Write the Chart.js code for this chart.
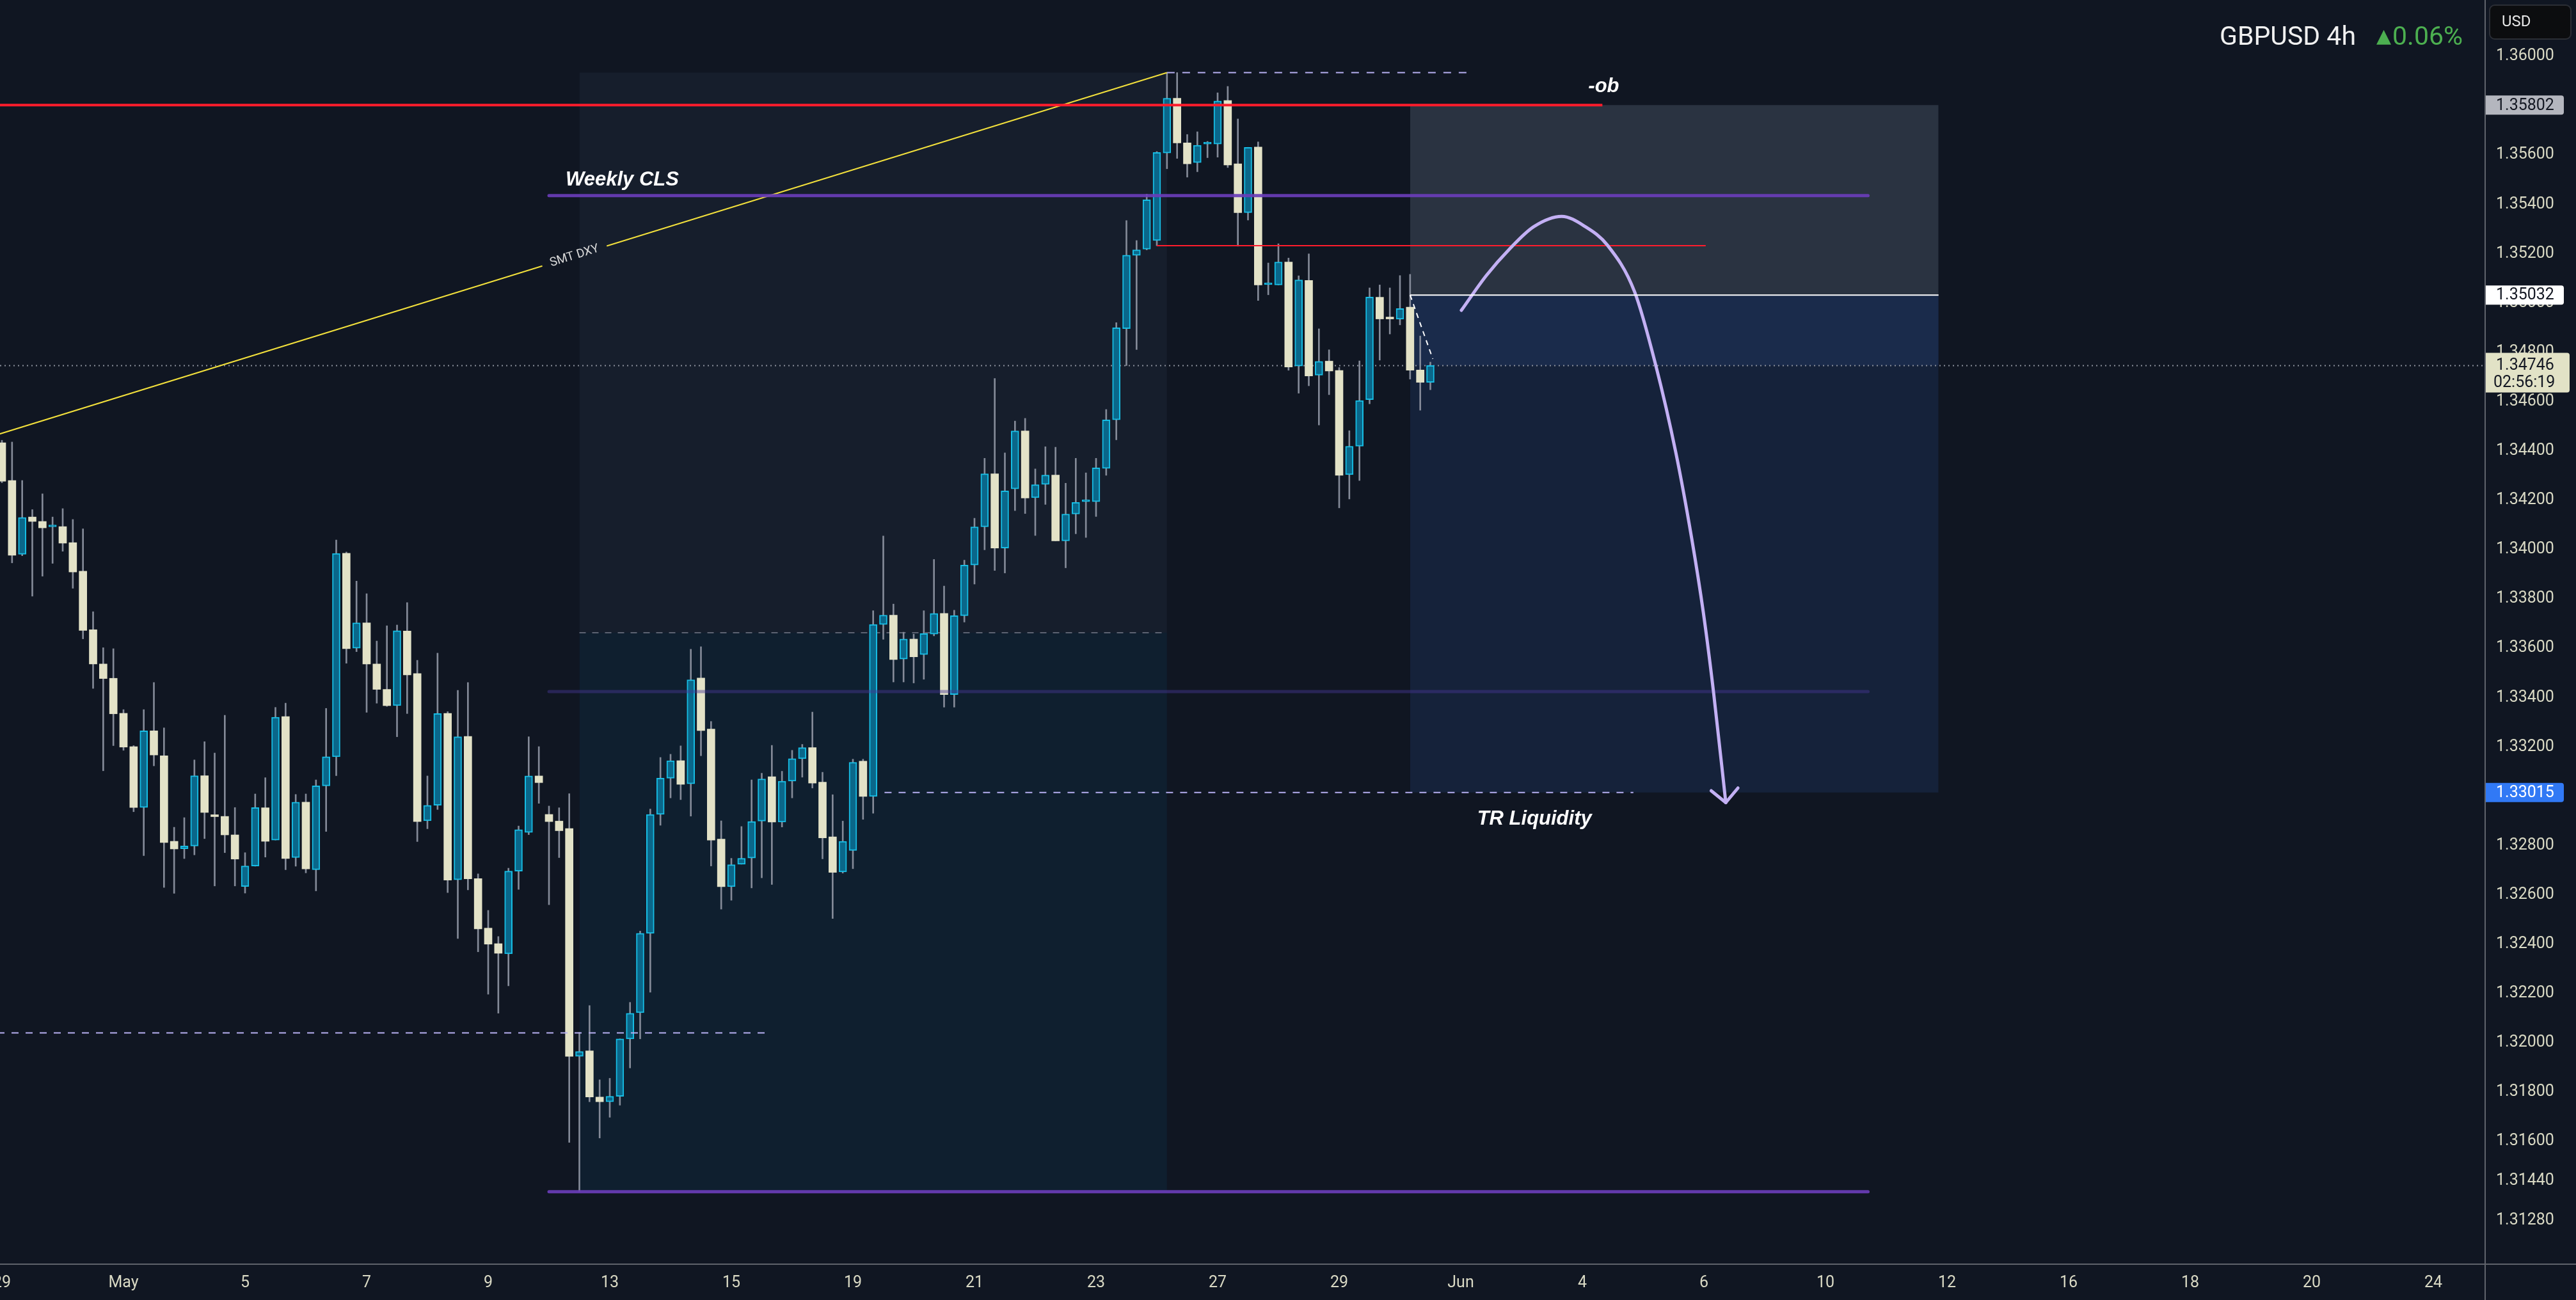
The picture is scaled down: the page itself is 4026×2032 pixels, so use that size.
<!DOCTYPE html>
<html>
<head>
<meta charset="utf-8">
<title>GBPUSD 4h</title>
<script src="https://cdn.jsdelivr.net/npm/chart.js@4.4.1/dist/chart.umd.min.js"></script>
<style>
  html, body { margin: 0; padding: 0; background: #101622; }
  #wrap { width: 4026px; height: 2032px; position: relative; }
</style>
</head>
<body>
<div id="wrap"><canvas id="chart"></canvas></div>
<script>
// time axis is counted in trading days from May 1 (Apr 29 = -2), 6 bars of 4h per day
const barsPerDay = 6;
const firstDay = -2;

const opens = [
  1.34433, 1.34280, 1.33981, 1.34132, 1.34114, 1.34092, 1.34093, 1.34028, 1.33912, 1.33675,
  1.33536, 1.33478, 1.33336, 1.33201, 1.32954, 1.33265, 1.33164, 1.32817, 1.32787, 1.32798,
  1.33083, 1.32921, 1.32918, 1.32843, 1.32634, 1.32717, 1.32953, 1.32822, 1.33323, 1.32751,
  1.32976, 1.32702, 1.33042, 1.33160, 1.33985, 1.33600, 1.33703, 1.33536, 1.33433, 1.33367,
  1.33670, 1.33497, 1.32900, 1.32963, 1.33336, 1.32661, 1.33242, 1.32666, 1.32465, 1.32402,
  1.32361, 1.32696, 1.32853, 1.33082, 1.32926, 1.32899, 1.32869, 1.31945, 1.31967, 1.31780,
  1.31761, 1.31783, 1.32016, 1.32122, 1.32444, 1.32926, 1.33073, 1.33144, 1.33050, 1.33479,
  1.33272, 1.32826, 1.32633, 1.32724, 1.32749, 1.32899, 1.33079, 1.32895, 1.33061, 1.33152,
  1.33197, 1.33057, 1.32835, 1.32693, 1.32780, 1.33142, 1.32999, 1.33696, 1.33734, 1.33556,
  1.33637, 1.33574, 1.33657, 1.33741, 1.33412, 1.33732, 1.33937, 1.34092, 1.34307, 1.34006,
  1.34246, 1.34481, 1.34210, 1.34264, 1.34302, 1.34035, 1.34144, 1.34194, 1.34194, 1.34329,
  1.34526, 1.34896, 1.35193, 1.35218, 1.35253, 1.35608, 1.35830, 1.35649, 1.35569, 1.35644,
  1.35644, 1.35821, 1.35564, 1.35366, 1.35632, 1.35074, 1.35073, 1.35166, 1.34744, 1.35091,
  1.34707, 1.34764, 1.34726, 1.34304, 1.34419, 1.34608, 1.35023, 1.34937, 1.34934, 1.34983,
  1.34728, 1.34678
];
const highs = [
  1.34443, 1.34436, 1.34280, 1.34162, 1.34226, 1.34132, 1.34166, 1.34122, 1.34084, 1.33748,
  1.33602, 1.33598, 1.33351, 1.33205, 1.33351, 1.33461, 1.33277, 1.32874, 1.32913, 1.33147,
  1.33221, 1.33175, 1.33328, 1.32954, 1.32771, 1.33009, 1.33075, 1.33360, 1.33377, 1.33007,
  1.33009, 1.33066, 1.33356, 1.34039, 1.33990, 1.33872, 1.33821, 1.33629, 1.33691, 1.33694,
  1.33785, 1.33551, 1.33082, 1.33580, 1.33343, 1.33429, 1.33461, 1.32685, 1.32537, 1.32431,
  1.32708, 1.32879, 1.33241, 1.33201, 1.32960, 1.32953, 1.33010, 1.32042, 1.32151, 1.31850,
  1.31856, 1.32016, 1.32164, 1.32453, 1.32948, 1.33157, 1.33170, 1.33204, 1.33596, 1.33606,
  1.33303, 1.32900, 1.32748, 1.32877, 1.33066, 1.33093, 1.33206, 1.33101, 1.33186, 1.33210,
  1.33341, 1.33097, 1.33006, 1.32899, 1.33150, 1.33150, 1.33752, 1.34055, 1.33779, 1.33665,
  1.33657, 1.33752, 1.33960, 1.33852, 1.33754, 1.33957, 1.34127, 1.34370, 1.34694, 1.34392,
  1.34521, 1.34532, 1.34327, 1.34417, 1.34415, 1.34269, 1.34370, 1.34311, 1.34370, 1.34568,
  1.34920, 1.35334, 1.35253, 1.35441, 1.35614, 1.35934, 1.35934, 1.35683, 1.35694, 1.35655,
  1.35852, 1.35878, 1.35746, 1.35631, 1.35653, 1.35162, 1.35240, 1.35182, 1.35110, 1.35199,
  1.34895, 1.34810, 1.34738, 1.34482, 1.34765, 1.35061, 1.35073, 1.35061, 1.35111, 1.35116,
  1.34866, 1.34760
];
const lows = [
  1.34271, 1.33946, 1.33975, 1.33811, 1.33892, 1.33944, 1.33993, 1.33843, 1.33638, 1.33437,
  1.33103, 1.33205, 1.33186, 1.32937, 1.32759, 1.33123, 1.32630, 1.32606, 1.32747, 1.32762,
  1.32828, 1.32636, 1.32771, 1.32636, 1.32607, 1.32716, 1.32753, 1.32822, 1.32702, 1.32716,
  1.32689, 1.32616, 1.32857, 1.33083, 1.33539, 1.33586, 1.33340, 1.33377, 1.33364, 1.33241,
  1.33335, 1.32816, 1.32868, 1.32946, 1.32609, 1.32423, 1.32620, 1.32369, 1.32197, 1.32120,
  1.32231, 1.32622, 1.32844, 1.32971, 1.32560, 1.32751, 1.31596, 1.31396, 1.31761, 1.31614,
  1.31698, 1.31747, 1.31898, 1.32016, 1.32205, 1.32882, 1.32993, 1.32986, 1.32919, 1.33164,
  1.32717, 1.32542, 1.32578, 1.32724, 1.32628, 1.32669, 1.32642, 1.32875, 1.32993, 1.33077,
  1.33033, 1.32746, 1.32504, 1.32688, 1.32706, 1.32906, 1.32931, 1.33636, 1.33463, 1.33463,
  1.33459, 1.33474, 1.33650, 1.33361, 1.33361, 1.33706, 1.33860, 1.33999, 1.33915, 1.33905,
  1.34158, 1.34146, 1.34057, 1.34183, 1.34035, 1.33926, 1.34064, 1.34049, 1.34134, 1.34301,
  1.34445, 1.34746, 1.34811, 1.35215, 1.35232, 1.35544, 1.35586, 1.35510, 1.35532, 1.35589,
  1.35591, 1.35549, 1.35230, 1.35336, 1.35010, 1.35033, 1.35073, 1.34727, 1.34634, 1.34664,
  1.34505, 1.34628, 1.34169, 1.34205, 1.34280, 1.34591, 1.34768, 1.34874, 1.34911, 1.34691,
  1.34565, 1.34648
];
const closes = [
  1.34277, 1.33977, 1.34130, 1.34114, 1.34088, 1.34095, 1.34026, 1.33909, 1.33672, 1.33536,
  1.33477, 1.33334, 1.33199, 1.32954, 1.33265, 1.33167, 1.32812, 1.32786, 1.32798, 1.33083,
  1.32934, 1.32917, 1.32843, 1.32745, 1.32717, 1.32954, 1.32817, 1.33320, 1.32747, 1.32976,
  1.32705, 1.33042, 1.33160, 1.33984, 1.33598, 1.33703, 1.33536, 1.33433, 1.33367, 1.33671,
  1.33492, 1.32897, 1.32963, 1.33335, 1.32660, 1.33241, 1.32665, 1.32462, 1.32400, 1.32363,
  1.32696, 1.32864, 1.33082, 1.33055, 1.32897, 1.32860, 1.31945, 1.31965, 1.31780, 1.31761,
  1.31783, 1.32016, 1.32120, 1.32444, 1.32926, 1.33073, 1.33144, 1.33048, 1.33472, 1.33266,
  1.32822, 1.32633, 1.32722, 1.32748, 1.32897, 1.33070, 1.32895, 1.33061, 1.33152, 1.33197,
  1.33053, 1.32831, 1.32691, 1.32817, 1.33137, 1.32999, 1.33696, 1.33734, 1.33554, 1.33637,
  1.33565, 1.33659, 1.33741, 1.33412, 1.33732, 1.33937, 1.34092, 1.34307, 1.34006, 1.34238,
  1.34481, 1.34209, 1.34263, 1.34302, 1.34035, 1.34144, 1.34191, 1.34196, 1.34331, 1.34526,
  1.34899, 1.35194, 1.35215, 1.35418, 1.35610, 1.35830, 1.35649, 1.35564, 1.35639, 1.35646,
  1.35819, 1.35559, 1.35366, 1.35631, 1.35073, 1.35077, 1.35166, 1.34740, 1.35093, 1.34704,
  1.34763, 1.34724, 1.34301, 1.34419, 1.34604, 1.35024, 1.34935, 1.34935, 1.34977, 1.34727,
  1.34678, 1.34746
];

const dayTicks = [-2, 0, 2, 4, 6, 8, 10, 12, 14, 16, 18, 20, 22, 24, 26, 28, 30, 32, 34, 36, 38];
const dayLabels = ['29', 'May', '5', '7', '9', '13', '15', '19', '21', '23', '27', '29', 'Jun',
                   '4', '6', '10', '12', '16', '18', '20', '24'];
const priceTicks = [1.36, 1.358, 1.356, 1.354, 1.352, 1.35, 1.348, 1.346, 1.344, 1.342, 1.34,
                    1.338, 1.336, 1.334, 1.332, 1.33, 1.328, 1.326, 1.324, 1.322, 1.32, 1.318,
                    1.316, 1.3144, 1.3128];

// drawn levels
const obLevel = 1.35802;
const clsLevel = 1.35435;
const rangeHigh = 1.35934;
const rangeLow = 1.31396;
const rangeMid = 1.33424;
const eqLevel = 1.33663;
const wickLevel = 1.35232;
const lowDashLevel = 1.3204;
const trLevel = 1.33015;
const lastPrice = 1.34746;
const entryPrice = 1.35032;
const stopPrice = 1.35802;
const targetPrice = 1.33015;
const smtLine = [[-2.1, 1.34464], [17.167, 1.35934]];

// projected path (day, price)
const pathDays   = [22.01, 22.42, 22.80, 23.20, 23.66, 24.05, 24.41, 24.86, 25.20, 25.54, 25.80, 25.99, 26.16, 26.36];
const pathPrices = [1.34970, 1.35111, 1.35218, 1.35309, 1.35351, 1.35309, 1.35235, 1.35045, 1.34755, 1.34391, 1.34044, 1.33746, 1.33419, 1.32974];

const xMin = -193 / 95, xMax = (3883 - 193) / 95;
const yMax = 1.362283, yMin = 1.311050;

const upFill = '#0a678a', upLine = '#17bde4', downFill = '#e3e2c7', wickColor = '#848a98';
const lavender = '#b7b0f2', purple = 'rgba(106,61,184,0.92)', pathColor = '#c3b0f4';

const barT = opens.map((o, k) => firstDay + k / barsPerDay);
const isUp = opens.map((o, k) => closes[k] >= o);

function seg(x1, x2, y) { return [{ x: x1, y: y }, { x: x2, y: y }]; }
function onSmt(t) {
  const [a, b] = smtLine;
  return a[1] + (b[1] - a[1]) * (t - a[0]) / (b[0] - a[0]);
}
function hline(data, color, width, dash, order, cap) {
  return { type: 'line', data: data, borderColor: color, borderWidth: width, borderDash: dash || [],
           borderCapStyle: cap || 'butt', pointRadius: 0, fill: false, order: order, tension: 0 };
}
function box(x1, x2, top, bottom, color, order) {
  return { type: 'line', data: seg(x1, x2, top), borderWidth: 0, pointRadius: 0,
           fill: { value: bottom }, backgroundColor: color, order: order };
}

const datasets = [
  box(7.5, 17.167, rangeHigh, eqLevel, '#161e2c', 30),
  box(7.5, 17.167, eqLevel, rangeLow, '#0f1f2f', 30),
  box(21.167, 29.86, stopPrice, entryPrice, '#2a3341', 30),
  box(21.167, 29.86, entryPrice, targetPrice, '#15223a', 30),
  box(21.167, 29.86, entryPrice, lastPrice, '#1a2b4b', 29),
  hline(seg(7.5, 17.167, eqLevel), '#5c6272', 2, [10, 10], 25),
  hline(seg(xMin, xMax, lastPrice), '#8b909b', 2, [2, 5], 25),
  {
    type: 'bar', data: barT.map((t, k) => ({ x: t, y: [lows[k], highs[k]] })),
    backgroundColor: wickColor, barThickness: 2, grouped: false, order: 5, minBarLength: 1
  },
  {
    type: 'bar', data: barT.map((t, k) => ({ x: t, y: [opens[k], closes[k]] })),
    backgroundColor: isUp.map(u => u ? upFill : downFill),
    borderColor: isUp.map(u => u ? upLine : downFill),
    borderWidth: isUp.map(u => u ? 2 : 0),
    borderSkipped: false, barThickness: 12, grouped: false, order: 4, minBarLength: 3
  },
  hline(seg(-3, 24.33, obLevel), '#ff1c2c', 4, null, 2),
  hline(seg(17.0, 26.03, wickLevel), '#ff1c2c', 2, null, 2),
  hline(seg(7.0, 28.7, clsLevel), purple, 5, null, 2, 'round'),
  hline(seg(7.0, 28.7, rangeMid), 'rgba(70,55,150,0.45)', 5, null, 2, 'round'),
  hline(seg(7.0, 28.7, rangeLow), purple, 5, null, 2, 'round'),
  hline(seg(17.167, 22.16, rangeHigh), lavender, 2, [12, 12], 2),
  hline(seg(-3, 10.59, lowDashLevel), lavender, 2, [11, 11], 2),
  hline(seg(12.52, 24.84, trLevel), lavender, 2, [11, 11], 2),
  hline([{ x: smtLine[0][0], y: smtLine[0][1] }, { x: 6.89, y: onSmt(6.89) }], '#f2e03c', 2, null, 2),
  hline([{ x: 7.95, y: onSmt(7.95) }, { x: smtLine[1][0], y: smtLine[1][1] }], '#f2e03c', 2, null, 2),
  hline(seg(21.167, 29.86, entryPrice), '#ffffff', 2, null, 1),
  hline([{ x: 21.167, y: entryPrice }, { x: 21.54, y: 1.34773 }], '#ffffff', 2, [8, 7], 1),
  Object.assign(hline(pathDays.map((d, i) => ({ x: d, y: pathPrices[i] })), pathColor, 5, null, 1, 'round'),
                { cubicInterpolationMode: 'monotone' }),
  Object.assign(hline([{ x: 26.12, y: 1.33022 }, { x: 26.36, y: 1.32974 }, { x: 26.56, y: 1.33033 }],
                      pathColor, 5, null, 1, 'round'), { borderJoinStyle: 'round' })
];

const tagFont = '25px Roboto';
const labelFont = 'italic bold 31px "Liberation Sans"';

const decor = {
  id: 'decor',
  beforeDraw(chart) {
    const c = chart.ctx;
    c.save();
    c.fillStyle = '#101622';
    c.fillRect(0, 0, chart.width, chart.height);
    c.restore();
  },
  afterDraw(chart) {
    const c = chart.ctx, xs = chart.scales.x, ys = chart.scales.y;
    const area = chart.chartArea;
    c.save();

    // axis borders
    c.strokeStyle = '#5f636b';
    c.lineWidth = 2;
    c.beginPath();
    c.moveTo(area.right + 1, 0); c.lineTo(area.right + 1, chart.height);
    c.moveTo(0, area.bottom + 1); c.lineTo(chart.width, area.bottom + 1);
    c.stroke();

    // drawing labels
    c.fillStyle = '#ffffff';
    c.font = labelFont;
    c.textBaseline = 'alphabetic';
    c.textAlign = 'left';
    c.fillText('Weekly CLS', xs.getPixelForValue(7.0) + 26, ys.getPixelForValue(clsLevel) - 16);
    c.fillText('-ob', xs.getPixelForValue(24.33) - 22, ys.getPixelForValue(obLevel) - 20);
    c.fillText('TR Liquidity', xs.getPixelForValue(22.27), ys.getPixelForValue(trLevel) + 50);

    const p1 = [xs.getPixelForValue(smtLine[0][0]), ys.getPixelForValue(smtLine[0][1])];
    const p2 = [xs.getPixelForValue(smtLine[1][0]), ys.getPixelForValue(smtLine[1][1])];
    const ang = Math.atan2(p2[1] - p1[1], p2[0] - p1[0]);
    c.save();
    c.translate(xs.getPixelForValue(7.42), ys.getPixelForValue(onSmt(7.42)));
    c.rotate(ang);
    c.font = '19px Roboto';
    c.fillStyle = '#dadada';
    c.textAlign = 'center';
    c.textBaseline = 'middle';
    c.fillText('SMT DXY', 0, 0);
    c.restore();

    // price tags on the axis
    function tag(price, text, bg, fg, w) {
      const y = ys.getPixelForValue(price);
      c.fillStyle = bg;
      c.beginPath();
      c.roundRect(area.right + 2, y - 15, w, 30, [0, 4, 4, 0]);
      c.fill();
      c.fillStyle = fg;
      c.font = tagFont;
      c.textAlign = 'left';
      c.textBaseline = 'middle';
      c.fillText(text, area.right + 18, y + 1);
    }
    tag(obLevel, '1.35802', '#b4b6be', '#131722', 122);
    tag(entryPrice, '1.35032', '#ffffff', '#131722', 122);
    tag(trLevel, '1.33015', '#3179f5', '#ffffff', 122);

    const yl = ys.getPixelForValue(lastPrice);
    c.fillStyle = '#e2e2c6';
    c.beginPath();
    c.roundRect(area.right + 2, yl - 20, 131, 62, [0, 4, 4, 0]);
    c.fill();
    c.fillStyle = '#131722';
    c.font = tagFont;
    c.textBaseline = 'middle';
    c.fillText('1.34746', area.right + 18, yl);
    c.fillText('02:56:19', area.right + 14, yl + 27);

    // currency box
    c.fillStyle = '#0c0d0f';
    c.strokeStyle = '#2b2e35';
    c.lineWidth = 2;
    c.beginPath();
    c.roundRect(3891, 8, 127, 53, 8);
    c.fill(); c.stroke();
    c.fillStyle = '#e6e6e6';
    c.font = '24px Roboto';
    c.fillText('USD', 3910, 35);

    // symbol title
    c.textBaseline = 'alphabetic';
    c.textAlign = 'right';
    c.font = '41px Roboto';
    c.fillStyle = '#4caf50';
    c.fillText('0.06%', 3849, 70);
    const wPct = c.measureText('0.06%').width;
    c.font = '30px "DejaVu Sans"';
    c.fillText('\u25B2', 3849 - wPct - 2, 66);
    const wTri = c.measureText('\u25B2').width;
    c.font = '41px Roboto';
    c.fillStyle = '#f0f0f0';
    c.fillText('GBPUSD 4h', 3849 - wPct - wTri - 34, 70);

    c.restore();
  }
};

new Chart(document.getElementById('chart'), {
  type: 'bar',
  data: { datasets: datasets },
  options: {
    responsive: true,
    maintainAspectRatio: false,
    animation: false,
    devicePixelRatio: 1,
    events: [],
    layout: { padding: 0 },
    plugins: { legend: { display: false }, tooltip: { enabled: false } },
    scales: {
      x: {
        type: 'linear', min: xMin, max: xMax, offset: false, bounds: 'data',
        grid: { display: false, drawTicks: false }, border: { display: false },
        ticks: {
          autoSkip: false, maxRotation: 0, color: '#d9d9c4', padding: 16,
          font: { family: 'Roboto', size: 25 },
          callback: (v, i) => dayLabels[i]
        },
        afterBuildTicks: s => { s.ticks = dayTicks.map(v => ({ value: v })); },
        afterFit: s => { s.height = 57; s.paddingLeft = 0; s.paddingRight = 0; }
      },
      y: {
        type: 'linear', position: 'right', min: yMin, max: yMax, bounds: 'data',
        grid: { display: false, drawTicks: false }, border: { display: false },
        ticks: {
          color: '#d9d9c4', padding: 18, crossAlign: 'near',
          font: { family: 'Roboto', size: 25 },
          callback: v => v.toFixed(5)
        },
        afterBuildTicks: s => { s.ticks = priceTicks.map(v => ({ value: v })); },
        afterFit: s => { s.width = 143; s.paddingTop = 0; s.paddingBottom = 0; }
      }
    }
  },
  plugins: [decor]
});
</script>
</body>
</html>
